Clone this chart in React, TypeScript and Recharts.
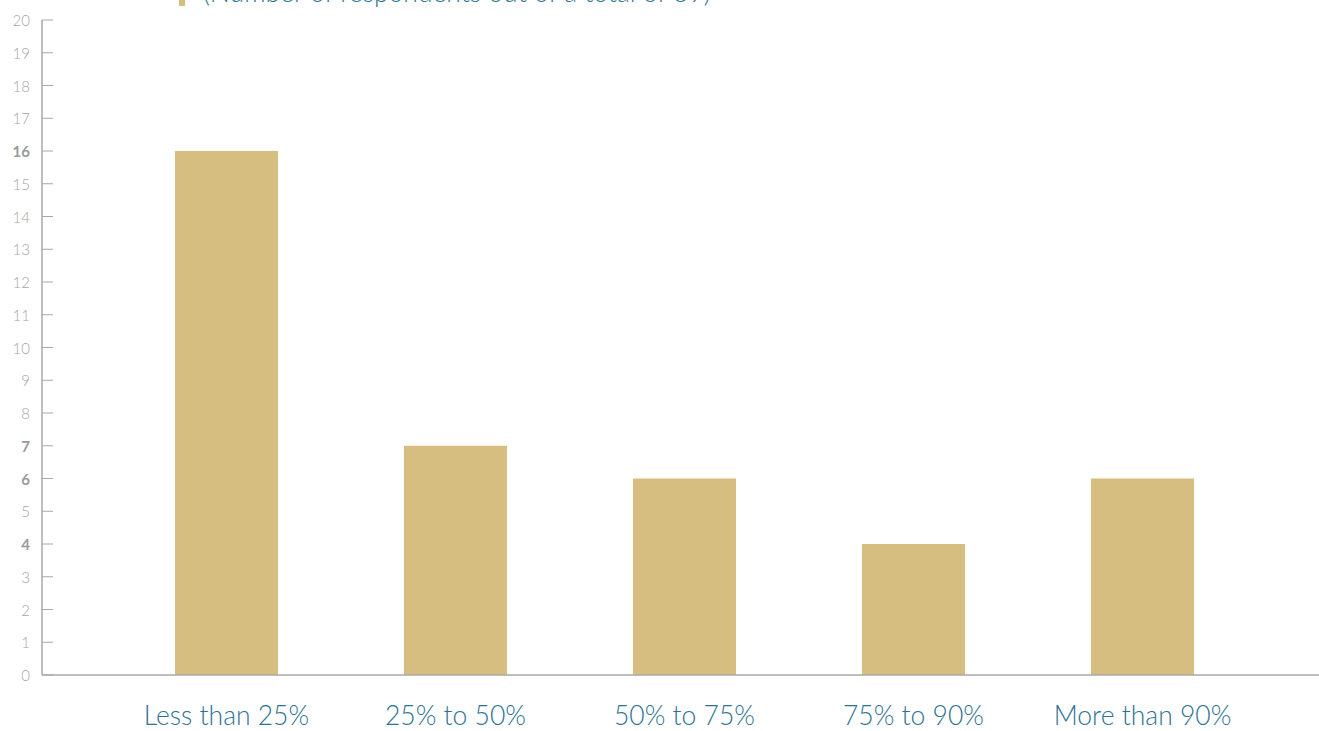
import React from "react";
import { BarChart, Bar, XAxis, YAxis } from "recharts";

const categories = ["Less than 25%", "25% to 50%", "50% to 75%", "75% to 90%", "More than 90%"];
const respondents = [16, 7, 6, 4, 6];
const yTicks = [0, 1, 2, 3, 4, 5, 6, 7, 8, 9, 10, 11, 12, 13, 14, 15, 16, 17, 18, 19, 20];
const seriesName = "(Number of respondents out of a total of 39)";

const data = categories.map((c, i) => ({ category: c, value: respondents[i] }));

const BAR = "#d6be80";
const BLUE = "#2f7393";
const FONT = "Lato, 'Open Sans', sans-serif";

const YTick = (props: any) => {
  const { x, y, payload } = props;
  const bold = respondents.includes(payload.value);
  return (
    <g>
      <line x1={x} y1={y} x2={x + 11} y2={y} stroke="#a8a8a8" strokeWidth={1} />
      <text
        x={x - 12}
        y={y}
        textAnchor="end"
        dominantBaseline="central"
        fontFamily={FONT}
        fontSize={15}
        fontWeight={bold ? 700 : 300}
        fill={bold ? "#9a9a9a" : "#a6a6a6"}
      >
        {payload.value}
      </text>
    </g>
  );
};

const XTick = (props: any) => {
  const { x, y, payload } = props;
  return (
    <text x={x} y={y + 50} textAnchor="middle" fontFamily={FONT} fontSize={26.5} fontWeight={300} fill={BLUE}>
      {payload.value}
    </text>
  );
};

export default function App() {
  return (
    <div style={{ position: "absolute", left: 0, top: 0, width: 1319, height: 731, background: "#fff", overflow: "hidden" }}>
      <BarChart width={1319} height={731} data={data} margin={{ top: 20, right: 0, bottom: 0, left: 0 }}>
        <XAxis
          dataKey="category"
          height={56}
          tick={<XTick />}
          tickLine={false}
          tickSize={0}
          tickMargin={0}
          interval={0}
          padding={{ left: 70, right: 62 }}
          axisLine={{ stroke: "#a8a8a8", strokeWidth: 1.5 }}
        />
        <YAxis
          width={42}
          domain={[0, 20]}
          ticks={yTicks}
          interval={0}
          tick={<YTick />}
          tickLine={false}
          tickSize={0}
          tickMargin={0}
          axisLine={{ stroke: "#a8a8a8", strokeWidth: 1.5 }}
        />
        <Bar dataKey="value" name={seriesName} fill={BAR} barSize={103} isAnimationActive={false} />
      </BarChart>
      <div style={{ position: "absolute", left: 179, top: -14, width: 6, height: 20, background: BAR }} />
      <div
        style={{
          position: "absolute",
          left: 203,
          top: -21,
          fontFamily: FONT,
          fontSize: 26.5,
          fontWeight: 300,
          color: BLUE,
          whiteSpace: "nowrap",
          lineHeight: "26px",
        }}
      >
        {seriesName}
      </div>
    </div>
  );
}
